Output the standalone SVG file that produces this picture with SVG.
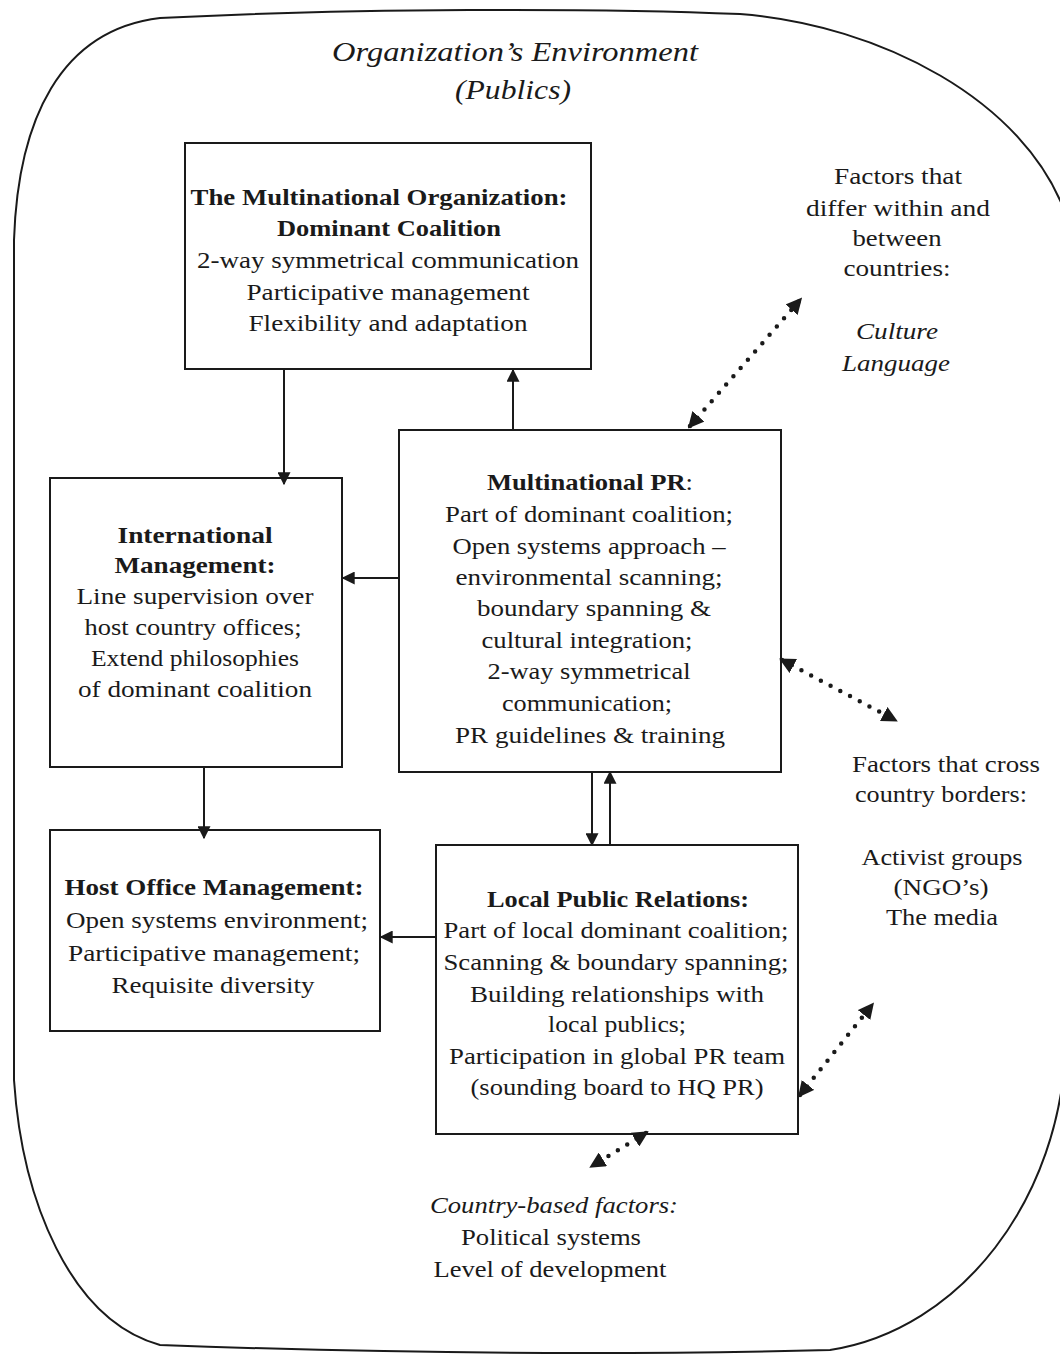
<svg xmlns="http://www.w3.org/2000/svg" width="1060" height="1358" viewBox="0 0 1060 1358" font-family="'Liberation Serif', serif">
<style>
text{font-family:'Liberation Serif',serif;font-size:24px;fill:#1a1a1a;text-anchor:middle}
.b{font-weight:bold}
.i{font-style:italic}
.t{font-size:28px;font-style:italic}
.box{fill:none;stroke:#1a1a1a;stroke-width:2}
.ln{stroke:#1a1a1a;stroke-width:2;fill:none}
.dot{stroke:#1a1a1a;stroke-width:4.5;stroke-linecap:round;stroke-dasharray:0 11;fill:none}
</style>
<defs>
<marker id="dh" viewBox="0 0 10 10" refX="8" refY="5" markerWidth="16" markerHeight="16" markerUnits="userSpaceOnUse" orient="auto-start-reverse"><path d="M0,0 L10,5 L0,10 Z" fill="#1a1a1a"/></marker>
<marker id="sh" viewBox="0 0 10 10" refX="9" refY="5" markerWidth="13" markerHeight="13" markerUnits="userSpaceOnUse" orient="auto-start-reverse"><path d="M0,0 L10,5 L0,10 Z" fill="#1a1a1a"/></marker>
</defs>
<rect width="1060" height="1358" fill="#fff"/>
<g id="environment">
<path class="ln" d="M 14,240 C 18,120 60,30 160,18 C 350,8 600,8 740,14 C 880,25 1025,100 1066,215 L 1066,1040 C 1062,1200 960,1330 830,1350 C 600,1356 350,1352 160,1345 C 70,1320 22,1200 14,1080 Z"/>
<text class="t" x="515" y="61" textLength="366" lengthAdjust="spacingAndGlyphs">Organization’s Environment</text>
<text class="t" x="513" y="99" textLength="116" lengthAdjust="spacingAndGlyphs">(Publics)</text>
</g>
<g id="connectors">
<line class="ln" x1="284" y1="369" x2="284" y2="484" marker-end="url(#sh)"/>
<line class="ln" x1="513" y1="430" x2="513" y2="370" marker-end="url(#sh)"/>
<line class="ln" x1="399" y1="578" x2="343" y2="578" marker-end="url(#sh)"/>
<line class="ln" x1="204" y1="767" x2="204" y2="838" marker-end="url(#sh)"/>
<line class="ln" x1="592" y1="772" x2="592" y2="845" marker-end="url(#sh)"/>
<line class="ln" x1="610" y1="845" x2="610" y2="772" marker-end="url(#sh)"/>
<line class="ln" x1="436" y1="937" x2="381" y2="937" marker-end="url(#sh)"/>
<line class="dot" x1="690" y1="426" x2="800" y2="300" marker-start="url(#dh)" marker-end="url(#dh)"/>
<line class="dot" x1="782" y1="660" x2="895" y2="720" marker-start="url(#dh)" marker-end="url(#dh)"/>
<line class="dot" x1="800" y1="1095" x2="872" y2="1005" marker-start="url(#dh)" marker-end="url(#dh)"/>
<line class="dot" x1="646" y1="1133" x2="592" y2="1166" marker-start="url(#dh)" marker-end="url(#dh)"/>
</g>
<g id="node-multinational-org">
<rect class="box" x="185" y="143" width="406" height="226"/>
<text class="b" x="379" y="205" textLength="377" lengthAdjust="spacingAndGlyphs">The Multinational Organization:</text>
<text class="b" x="389" y="236" textLength="224" lengthAdjust="spacingAndGlyphs">Dominant Coalition</text>
<text x="388" y="268" textLength="382" lengthAdjust="spacingAndGlyphs">2-way symmetrical communication</text>
<text x="388" y="300" textLength="283" lengthAdjust="spacingAndGlyphs">Participative management</text>
<text x="388" y="331" textLength="279" lengthAdjust="spacingAndGlyphs">Flexibility and adaptation</text>
</g>
<g id="node-international-management">
<rect class="box" x="50" y="478" width="292" height="289"/>
<text class="b" x="195" y="543" textLength="155" lengthAdjust="spacingAndGlyphs">International</text>
<text class="b" x="195" y="573" textLength="161" lengthAdjust="spacingAndGlyphs">Management:</text>
<text x="195" y="604" textLength="237" lengthAdjust="spacingAndGlyphs">Line supervision over</text>
<text x="193" y="635" textLength="217" lengthAdjust="spacingAndGlyphs">host country offices;</text>
<text x="195" y="666" textLength="208" lengthAdjust="spacingAndGlyphs">Extend philosophies</text>
<text x="195" y="697" textLength="234" lengthAdjust="spacingAndGlyphs">of dominant coalition</text>
</g>
<g id="node-multinational-pr">
<rect class="box" x="399" y="430" width="382" height="342"/>
<text x="590" y="490" textLength="206" lengthAdjust="spacingAndGlyphs"><tspan class="b">Multinational PR</tspan>:</text>
<text x="589" y="522" textLength="288" lengthAdjust="spacingAndGlyphs">Part of dominant coalition;</text>
<text x="589" y="554" textLength="273" lengthAdjust="spacingAndGlyphs">Open systems approach –</text>
<text x="589" y="585" textLength="267" lengthAdjust="spacingAndGlyphs">environmental scanning;</text>
<text x="594" y="616" textLength="234" lengthAdjust="spacingAndGlyphs">boundary spanning &amp;</text>
<text x="587" y="648" textLength="211" lengthAdjust="spacingAndGlyphs">cultural integration;</text>
<text x="589" y="679" textLength="203" lengthAdjust="spacingAndGlyphs">2-way symmetrical</text>
<text x="587" y="711" textLength="170" lengthAdjust="spacingAndGlyphs">communication;</text>
<text x="590" y="743" textLength="270" lengthAdjust="spacingAndGlyphs">PR guidelines &amp; training</text>
</g>
<g id="node-host-office">
<rect class="box" x="50" y="830" width="330" height="201"/>
<text class="b" x="214" y="895" textLength="299" lengthAdjust="spacingAndGlyphs">Host Office Management:</text>
<text x="217" y="928" textLength="302" lengthAdjust="spacingAndGlyphs">Open systems environment;</text>
<text x="214" y="961" textLength="292" lengthAdjust="spacingAndGlyphs">Participative management;</text>
<text x="213" y="993" textLength="203" lengthAdjust="spacingAndGlyphs">Requisite diversity</text>
</g>
<g id="node-local-pr">
<rect class="box" x="436" y="845" width="362" height="289"/>
<text class="b" x="618" y="907" textLength="262" lengthAdjust="spacingAndGlyphs">Local Public Relations:</text>
<text x="616" y="938" textLength="345" lengthAdjust="spacingAndGlyphs">Part of local dominant coalition;</text>
<text x="616" y="970" textLength="345" lengthAdjust="spacingAndGlyphs">Scanning &amp; boundary spanning;</text>
<text x="617" y="1002" textLength="294" lengthAdjust="spacingAndGlyphs">Building relationships with</text>
<text x="617" y="1032" textLength="138" lengthAdjust="spacingAndGlyphs">local publics;</text>
<text x="617" y="1064" textLength="336" lengthAdjust="spacingAndGlyphs">Participation in global PR team</text>
<text x="617" y="1095" textLength="293" lengthAdjust="spacingAndGlyphs">(sounding board to HQ PR)</text>
</g>
<g id="factors-within-between">
<text x="898" y="184" textLength="128" lengthAdjust="spacingAndGlyphs">Factors that</text>
<text x="898" y="216" textLength="184" lengthAdjust="spacingAndGlyphs">differ within and</text>
<text x="897" y="246" textLength="89" lengthAdjust="spacingAndGlyphs">between</text>
<text x="897" y="276" textLength="107" lengthAdjust="spacingAndGlyphs">countries:</text>
<text class="i" x="897" y="339" textLength="82" lengthAdjust="spacingAndGlyphs">Culture</text>
<text class="i" x="896" y="371" textLength="108" lengthAdjust="spacingAndGlyphs">Language</text>
</g>
<g id="factors-cross-border">
<text x="946" y="772" textLength="188" lengthAdjust="spacingAndGlyphs">Factors that cross</text>
<text x="941" y="802" textLength="172" lengthAdjust="spacingAndGlyphs">country borders:</text>
<text x="942" y="865" textLength="161" lengthAdjust="spacingAndGlyphs">Activist groups</text>
<text x="941" y="895" textLength="95" lengthAdjust="spacingAndGlyphs">(NGO’s)</text>
<text x="942" y="925" textLength="112" lengthAdjust="spacingAndGlyphs">The media</text>
</g>
<g id="country-based-factors">
<text class="i" x="554" y="1213" textLength="248" lengthAdjust="spacingAndGlyphs">Country-based factors:</text>
<text x="551" y="1245" textLength="180" lengthAdjust="spacingAndGlyphs">Political systems</text>
<text x="550" y="1277" textLength="233" lengthAdjust="spacingAndGlyphs">Level of development</text>
</g>
</svg>
